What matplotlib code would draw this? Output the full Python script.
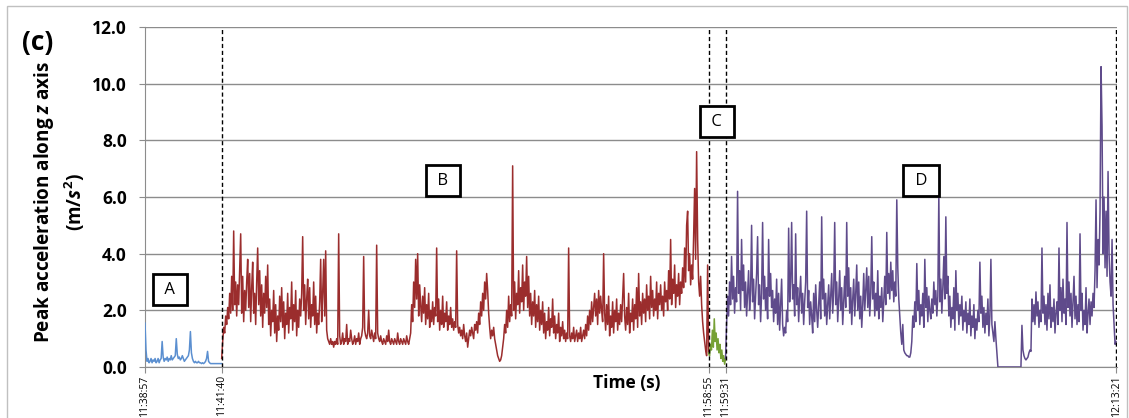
import numpy as np
import matplotlib
matplotlib.use("Agg")
import matplotlib.pyplot as plt

plt.rcParams['font.family'] = ['Open Sans', 'DejaVu Sans']
plt.rcParams['mathtext.fontset'] = 'custom'
plt.rcParams['mathtext.rm'] = 'Open Sans:bold'
plt.rcParams['mathtext.it'] = 'Open Sans:italic:bold'

# segment boundaries (seconds after 11:38:57)
seg_bounds = [0, 163, 1198, 1234, 2064]
tick_labels = ['11:38:57', '11:41:40', '11:58:55', '11:59:31', '12:13:21']

# peak acceleration values, one segment each
seg_a = [1.55, 0.6, 0.2, 0.3, 0.15, 0.2, 0.3, 0.15, 0.25, 0.2, 0.3, 0.15, 0.2, 0.3, 0.15, 0.25, 0.3,
         0.9, 0.35, 0.2, 0.3, 0.25, 0.35, 0.2, 0.3, 0.25, 0.4, 0.25, 0.3, 0.35, 0.4, 1.0, 0.45, 0.3,
         0.35, 0.25, 0.3, 0.4, 0.3, 0.2, 0.25, 0.3, 0.35, 0.4, 0.6, 1.25, 0.5, 0.3, 0.2, 0.15, 0.2,
         0.15, 0.15, 0.2, 0.15, 0.15, 0.12, 0.15, 0.12, 0.15, 0.2, 0.3, 0.55, 0.2, 0.15, 0.12, 0.12,
         0.12, 0.12, 0.12, 0.12, 0.12, 0.12, 0.12, 0.12, 0.12, 0.12]

seg_b = [0.3, 0.9, 1.4, 1.2, 1.8, 1.5, 2.1, 1.7, 2.6, 1.9, 3.2, 2.0, 4.8, 2.2, 3.0, 1.8, 2.9, 2.2, 3.5, 4.7,
         1.9, 3.2, 1.6, 2.7, 2.0, 3.0, 3.8, 2.1, 3.3, 1.6, 2.8, 3.7, 1.9, 2.6, 1.5, 3.0, 4.2, 2.2, 3.4, 1.8,
         2.9, 1.4, 2.6, 1.9, 3.2, 2.1, 3.6, 1.5, 2.4, 1.1, 2.0, 1.6, 2.7, 1.2, 2.2, 0.9, 1.8, 1.3, 2.5, 1.6,
         2.8, 1.4, 2.3, 1.0, 1.9, 1.5, 2.6, 1.2, 2.1, 1.7, 3.0, 1.3, 2.2, 1.6, 2.7, 1.1, 2.0, 1.4, 2.4, 1.8,
         2.6, 4.6, 2.0, 2.9, 1.5, 2.4, 3.1, 1.7, 2.8, 1.4, 2.2, 1.8, 3.0, 1.5, 2.5, 1.2, 1.9, 1.5, 2.3, 3.8,
         1.6, 2.6, 3.8, 1.8, 4.1, 1.3, 1.0, 0.9, 0.8, 1.0, 0.8, 0.9, 0.7, 0.9, 0.8, 1.0, 0.8, 4.7, 1.1, 0.8,
         0.9, 1.2, 0.8, 1.0, 0.9, 1.5, 0.8, 1.0, 0.9, 1.3, 1.0, 0.8, 0.9, 1.1, 0.8, 1.0, 0.9, 1.2, 0.8, 1.0,
         1.1, 1.4, 3.9, 1.3, 1.1, 1.0, 1.2, 2.0, 1.1, 1.0, 1.3, 1.1, 0.9, 1.2, 1.0, 4.3, 1.2, 1.0, 0.9, 1.1,
         0.9, 0.8, 1.0, 0.9, 0.8, 1.1, 0.9, 1.3, 0.9, 0.8, 1.0, 0.9, 0.8, 1.0, 0.9, 0.8, 1.2, 0.9, 0.8, 1.0,
         0.9, 0.8, 1.0, 0.9, 0.8, 1.1, 0.9, 0.8, 1.0, 1.2, 2.2, 1.6, 3.0, 2.1, 3.8, 2.4, 4.0, 1.8, 2.9, 2.2,
         1.6, 2.5, 1.9, 2.8, 1.5, 2.2, 1.7, 2.6, 1.4, 2.0, 1.6, 2.3, 1.5, 2.1, 1.8, 4.2, 1.6, 2.4, 1.3, 2.0,
         1.5, 2.5, 1.4, 1.9, 1.6, 2.3, 1.3, 1.8, 1.5, 2.1, 1.4, 1.7, 1.3, 1.6, 1.4, 4.1, 1.5, 1.2, 1.4, 1.1,
         1.3, 1.0, 1.5, 1.1, 0.9, 1.2, 0.7, 1.0, 1.3, 1.1, 1.4, 1.2, 1.0, 1.5, 1.3, 1.6, 1.2, 1.9, 1.5, 2.3,
         1.8, 2.6, 2.0, 3.0, 2.4, 3.3, 2.7, 1.9, 1.4, 1.0, 1.3, 1.1, 1.4, 1.0, 0.8, 0.6, 0.4, 0.3, 0.2, 0.25,
         0.4, 0.7, 1.0, 1.5, 1.2, 2.0, 1.4, 2.5, 1.6, 2.2, 1.8, 7.1, 2.0, 3.0, 1.7, 2.6, 2.2, 3.4, 1.9, 2.8,
         2.3, 3.6, 2.0, 3.0, 2.5, 3.9, 2.1, 3.2, 1.8, 2.6, 1.5, 2.3, 1.8, 2.7, 1.4, 2.2, 1.6, 2.5, 1.3, 2.0,
         1.5, 2.3, 1.2, 1.9, 1.0, 1.6, 1.3, 2.1, 1.1, 1.7, 1.4, 2.4, 1.2, 1.8, 1.0, 1.5, 1.2, 1.9, 0.9, 1.4,
         1.1, 1.6, 1.0, 1.3, 0.9, 1.2, 1.0, 4.2, 1.1, 0.9, 1.2, 1.0, 1.4, 0.9, 1.1, 1.3, 0.9, 1.2, 1.0, 1.4,
         0.9, 1.1, 1.3, 1.0, 1.5, 1.1, 1.8, 1.3, 2.0, 1.5, 2.3, 1.6, 2.1, 2.6, 1.8, 2.4, 1.5, 2.7, 1.9, 2.5,
         2.0, 1.6, 4.0, 1.9, 1.3, 2.2, 1.5, 2.5, 1.1, 1.8, 1.4, 2.3, 1.2, 2.0, 1.6, 2.4, 1.3, 1.9, 1.5, 2.2,
         1.6, 2.5, 3.3, 1.8, 1.3, 2.1, 1.5, 2.6, 1.2, 1.9, 1.6, 2.4, 1.3, 2.2, 1.7, 2.8, 1.4, 3.3, 1.8, 2.3,
         1.5, 2.6, 1.9, 2.4, 1.6, 2.9, 2.0, 2.5, 1.7, 3.2, 2.1, 2.7, 1.8, 2.4, 2.0, 3.0, 1.7, 2.6, 2.2, 2.9,
         2.0, 2.5, 1.8, 3.0, 2.3, 2.7, 2.0, 3.4, 2.4, 4.5, 2.2, 3.1, 2.6, 3.6, 2.1, 2.9, 2.5, 3.3, 2.2, 3.0,
         2.6, 3.5, 2.8, 4.2, 3.0, 5.0, 5.5, 3.4, 4.0, 2.9, 3.6, 3.1, 4.6, 6.3, 3.8, 7.6, 4.5, 3.0, 2.5, 3.2,
         2.2, 1.6, 1.2, 0.9, 0.6, 0.4, 3.6, 0.5]

seg_c = [0.5, 0.4, 0.8, 0.6, 1.3, 0.7, 1.7, 0.9, 1.2, 0.6, 1.0, 0.5, 0.8, 0.3, 0.6, 0.2, 0.4, 0.1, 0.3]

seg_d = [0.3, 1.5, 2.5, 1.8, 3.0, 2.2, 3.9, 2.4, 3.2, 1.9, 2.8, 2.3, 6.2, 2.6, 3.4, 2.0, 4.5, 2.7, 3.6, 2.1,
         3.0, 1.8, 2.6, 3.4, 2.0, 2.7, 5.0, 2.3, 3.1, 1.7, 2.5, 3.3, 4.6, 2.2, 2.9, 1.6, 2.6, 5.1, 2.4, 3.2,
         2.0, 2.8, 1.7, 4.5, 2.5, 3.3, 2.1, 2.7, 1.6, 2.4, 1.9, 3.1, 1.5, 2.6, 1.3, 2.2, 3.1, 1.5, 1.1, 1.4,
         1.2, 2.0, 1.6, 4.9, 2.3, 3.0, 5.1, 2.4, 2.9, 1.8, 4.7, 2.2, 2.8, 1.6, 2.5, 3.2, 1.9, 2.6, 1.5, 2.3,
         3.0, 5.5, 2.1, 2.7, 1.5, 2.3, 1.8, 1.2, 2.6, 1.6, 2.9, 2.0, 1.4, 2.2, 3.0, 1.7, 5.3, 2.4, 3.1, 1.8,
         2.6, 1.5, 2.2, 2.9, 1.7, 2.5, 3.3, 1.9, 2.7, 5.1, 2.2, 3.0, 1.6, 2.4, 3.4, 2.0, 2.8, 1.5, 2.3, 3.2,
         2.1, 5.1, 2.5, 3.5, 1.9, 2.8, 1.5, 2.4, 3.1, 1.8, 2.6, 3.6, 2.0, 3.0, 1.7, 2.5, 1.4, 2.2, 3.3, 2.0,
         2.7, 3.5, 2.1, 3.2, 1.8, 2.6, 4.6, 2.4, 3.0, 1.8, 2.6, 2.0, 3.4, 1.7, 2.5, 2.1, 2.8, 1.6, 2.3, 3.2,
         2.2, 4.75, 2.6, 3.3, 2.4, 3.7, 2.7, 3.4, 2.3, 3.0, 2.5, 5.9, 3.5, 2.4, 1.8, 1.2, 0.8, 1.5, 0.6, 0.5,
         0.45, 0.4, 0.4, 0.35, 0.35, 0.5, 0.9, 1.8, 1.4, 2.3, 1.6, 3.65, 2.0, 2.7, 1.5, 2.2, 1.8, 2.6, 1.4, 3.8,
         2.1, 2.8, 1.6, 2.5, 2.0, 1.7, 2.4, 1.9, 3.0, 2.2, 2.7, 1.8, 2.5, 6.06, 2.3, 3.1, 1.9, 2.8, 3.9, 2.4,
         5.3, 2.6, 3.2, 1.8, 2.5, 1.4, 2.1, 1.7, 2.8, 1.3, 3.4, 2.0, 2.6, 1.5, 2.2, 1.8, 2.5, 1.3, 2.0, 1.6,
         2.3, 1.2, 1.9, 1.5, 2.4, 1.1, 1.8, 1.4, 2.2, 1.0, 1.7, 1.3, 2.0, 1.6, 3.7, 1.9, 2.5, 1.4, 2.1, 1.2,
         1.9, 1.5, 2.4, 1.1, 1.8, 3.8, 1.5, 1.2, 0.9, 1.6, 1.0, 0.5, 0.0, 0.0, 0.0, 0.0, 0.0, 0.0, 0.0, 0.0,
         0.0, 0.0, 0.0, 0.0, 0.0, 0.0, 0.0, 0.0, 0.0, 0.0, 0.0, 0.0, 0.0, 0.0, 0.0, 0.0, 1.47, 0.6, 0.4, 0.3,
         0.25, 0.3, 0.35, 0.5, 0.6, 0.55, 2.4, 1.6, 2.2, 1.5, 2.65, 1.8, 2.3, 1.4, 2.0, 1.6, 4.2, 1.9, 2.5, 1.5,
         2.2, 1.3, 2.6, 1.7, 2.9, 1.4, 2.1, 1.6, 2.4, 1.2, 1.9, 2.3, 1.5, 4.2, 2.0, 2.8, 1.6, 3.1, 1.9, 2.4,
         1.5, 5.1, 2.1, 3.0, 1.8, 2.6, 1.4, 2.3, 3.2, 1.7, 2.5, 1.5, 2.2, 1.6, 4.7, 2.0, 2.6, 1.3, 2.0, 1.5,
         2.8, 1.2, 1.9, 2.4, 1.5, 2.3, 1.8, 2.6, 2.1, 3.4, 5.9, 2.8, 4.5, 3.6, 5.5, 10.6, 8.5, 4.0, 6.0, 3.5,
         5.5, 3.2, 6.9, 4.0, 3.0, 2.5, 4.5, 2.2, 1.5, 0.8, 0.9]

segments = [seg_a, seg_b, seg_c, seg_d]
seg_colors = ['#5B8FD0', '#9B2D2D', '#76A035', '#5F4B8B']
seg_names = ['A', 'B', 'C', 'D']
# label box positions (seconds, m/s^2)
box_x = [53, 633, 1216, 1650]
box_y = [2.72, 6.57, 8.65, 6.57]

fig = plt.figure(figsize=(11.29, 4.18), dpi=100)
ax = fig.add_axes([145 / 1129, 51 / 418, 972 / 1129, 340 / 418])

for i, vals in enumerate(segments):
    t = np.linspace(seg_bounds[i], seg_bounds[i + 1], len(vals))
    ax.plot(t, vals, color=seg_colors[i], lw=1.1, zorder=3)

ax.vlines(seg_bounds[1:], 0, 12, colors='black', linestyles=(0, (3, 2)), lw=1, zorder=4)

for name, bx, by in zip(seg_names, box_x, box_y):
    ax.text(bx, by, ' ' + name + ' ', fontsize=12, ha='center', va='center', zorder=5,
            bbox=dict(boxstyle='square,pad=0.45', fc='white', ec='black', lw=2))

ax.set_xlim(0, 2066)
ax.set_ylim(0, 12)
ax.set_yticks(np.arange(0, 12.1, 2))
ax.set_yticklabels(['%.1f' % v for v in np.arange(0, 12.1, 2)], fontweight='bold', fontsize=12.5)
ax.set_xticks(seg_bounds)
ax.set_xticklabels(tick_labels, rotation=90, fontsize=7.5, va='top')
ax.grid(axis='y', color='#8c8c8c', lw=1, zorder=1)
for s in ['top', 'right']:
    ax.spines[s].set_visible(False)
for s in ['left', 'bottom']:
    ax.spines[s].set_color('#8c8c8c')
ax.tick_params(axis='both', color='#8c8c8c', length=4)
ax.tick_params(axis='x', pad=2)
ax.tick_params(axis='y', pad=9)

ax.set_ylabel('Peak acceleration along $z$ axis\n(m/$s^2$)', fontsize=13.6, fontweight='bold',
              linespacing=1.3)
ax.yaxis.set_label_coords(-0.06, 0.485)
ax.text(0.496, -0.047, 'Time (s)', transform=ax.transAxes, fontsize=12.5, fontweight='bold',
        ha='center', va='center')
fig.text(0.0195, 0.88, '(c)', fontsize=19, fontweight='bold')

fig.patches.append(plt.Rectangle((0.006, -0.1), 0.992, 1.085, transform=fig.transFigure,
                                 fill=False, edgecolor='#c0c0c0', lw=1))

fig.savefig('out.png', dpi=100)
